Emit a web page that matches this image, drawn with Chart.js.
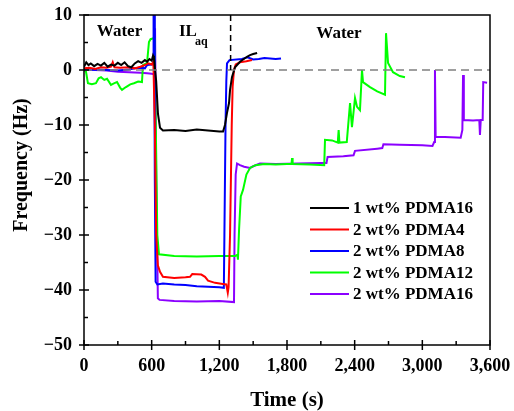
<!DOCTYPE html>
<html>
<head>
<meta charset="utf-8">
<script src="https://cdn.jsdelivr.net/npm/chart.js@4.4.1/dist/chart.umd.min.js"></script>
<style>
  html, body { margin: 0; padding: 0; background: #fff; }
  #wrap { width: 514px; height: 411px; position: relative; }
</style>
</head>
<body>
<div id="wrap"><canvas id="qcmChart"></canvas></div>
<script>
// Frequency traces (time in s, frequency in Hz)
const seriesLabels = ['1 wt% PDMA16', '2 wt% PDMA4', '2 wt% PDMA8', '2 wt% PDMA12', '2 wt% PDMA16'];
const seriesColors = ['#000000', '#ff0000', '#0000ff', '#00ff00', '#8b00ff'];

const blackTime = [0, 20, 40, 60, 90, 120, 150, 180, 210, 240, 270, 300, 330, 360, 390, 420, 450, 480, 510, 540, 560, 580, 600, 612, 620, 640, 656, 674, 700, 800, 900, 1000, 1100, 1200, 1233, 1250, 1268, 1286, 1295, 1312, 1339, 1383, 1445, 1472, 1500, 1535];
const blackFreq = [0.6, 1.4, 0.9, 1.2, 0.7, 1.1, 0.8, 1.3, 0.6, 1.0, 0.8, 1.3, 0.9, 1.4, 0.7, 0.5, 1.2, 1.6, 1.3, 1.8, 1.5, 2.0, 1.7, 2.6, 2.2, -2, -8, -10.5, -11.0, -10.9, -11.1, -10.8, -11.0, -11.2, -11.2, -10, -7.8, -6, -3.6, -1.3, 0.5, 1.5, 2.4, 2.7, 2.9, 3.1];

const redTime = [0, 50, 100, 150, 200, 240, 255, 270, 320, 400, 450, 500, 540, 570, 600, 615, 628, 640, 655, 674, 700, 800, 900, 940, 960, 1040, 1073, 1100, 1162, 1230, 1262, 1275, 1282, 1295, 1310, 1318, 1330, 1345, 1383, 1440, 1490];
const redFreq = [0.3, 0.4, 0.2, 0.5, 0.4, 0.6, 1.4, 0.5, 0.4, 0.5, 0.3, 0.6, 0.9, 1.2, 1.0, 1.5, -10, -30, -35.5, -36.7, -37.6, -37.8, -37.7, -37.6, -37.1, -37.2, -37.6, -38.3, -38.7, -38.9, -39.0, -40.5, -39.5, -30, -10, -3, 0, 1.0, 1.4, 1.6, 1.8];

const blueTime = [0, 100, 200, 300, 400, 450, 500, 540, 560, 600, 612, 617, 622, 628, 635, 650, 700, 800, 900, 1000, 1100, 1200, 1240, 1245, 1255, 1262, 1268, 1290, 1400, 1450, 1500, 1550, 1600, 1700, 1747];
const blueFreq = [0, 0.1, 0, -0.1, 0.1, 0.3, 0.4, 0.3, 0.9, 1.0, 1.2, 10, 10, -20, -38.5, -39.0, -38.8, -39.0, -39.1, -39.3, -39.4, -39.5, -39.6, -30, -10, -2, 1.2, 1.8, 2.0, 2.3, 1.9, 2.0, 2.2, 2.0, 2.1];

const greenTime = [0, 15, 35, 70, 106, 130, 151, 180, 204, 239, 270, 293, 320, 337, 372, 410, 443, 480, 514, 523, 559, 576, 590, 621, 628, 640, 650, 665, 800, 1000, 1200, 1340, 1360, 1365, 1375, 1390, 1410, 1440, 1472, 1520, 1600, 1700, 1800, 1840, 1845, 1850, 2000, 2130, 2137, 2200, 2250, 2258, 2265, 2330, 2359, 2376, 2403, 2421, 2447, 2465, 2474, 2536, 2600, 2669, 2678, 2696, 2740, 2800, 2846];
const greenFreq = [-0.2, 0, -2.4, -2.6, -2.4, -1.5, -1.3, -1.8, -1.6, -2.7, -2.4, -2.2, -3.2, -3.6, -3.1, -2.6, -2.4, -2.1, -2.2, 0.9, 1.3, 5.1, 5.6, 5.8, 2, -15, -30, -33.5, -33.8, -33.9, -33.8, -33.8, -33.6, -34.5, -29, -23, -21.8, -19, -17.8, -17.3, -17.1, -17.2, -17.1, -17.1, -16, -17.1, -17.2, -17.3, -12.7, -12.8, -13.2, -10.9, -13.2, -13.1, -6.0, -10.4, -5.1, -6.7, -7.3, 0, -2.2, -3.1, -3.9, -4.5, 6.7, 1.3, -0.4, -1.1, -1.3];

const purpleTime = [0, 100, 200, 300, 400, 500, 560, 600, 625, 630, 640, 655, 670, 800, 1000, 1200, 1330, 1335, 1345, 1357, 1383, 1420, 1472, 1500, 1560, 1700, 1900, 2100, 2150, 2160, 2300, 2390, 2403, 2600, 2645, 2655, 2800, 3000, 3090, 3105, 3112, 3118, 3200, 3340, 3355, 3361, 3368, 3450, 3505, 3511, 3518, 3535, 3540, 3574];
const purpleFreq = [0.2, 0, -0.1, -0.3, -0.4, -0.5, -0.6, -0.7, -0.8, 7.6, -20, -41.5, -41.8, -42, -42.1, -42, -42.2, -30, -19, -17, -17.3, -17.6, -17.8, -17.5, -17.0, -17.1, -17.0, -16.9, -16.9, -15.8, -15.7, -15.5, -14.7, -14.3, -14.2, -13.5, -13.6, -13.7, -13.8, -13.1, 0, -12.2, -12.2, -12.3, -10.9, -0.9, -9.1, -9.2, -9.1, -11.8, -9.1, -9.1, -2.2, -2.3];

const xTicks = [0, 600, 1200, 1800, 2400, 3000, 3600];
const yTicks = [-50, -40, -30, -20, -10, 0, 10];

const allTimes = [blackTime, redTime, blueTime, greenTime, purpleTime];
const allFreqs = [blackFreq, redFreq, blueFreq, greenFreq, purpleFreq];

function toPoints(t, f) {
  return t.map((x, i) => ({ x: x, y: f[i] }));
}

const serif = "'Liberation Serif', 'Times New Roman', serif";

// ticks, frame, dashed guides, text labels and legend
const decorPlugin = {
  id: 'decor',
  afterDraw(chart) {
    const ctx = chart.ctx;
    const a = chart.chartArea;
    const xs = chart.scales.x, ys = chart.scales.y;
    ctx.save();

    // dashed zero line
    ctx.strokeStyle = '#808080';
    ctx.lineWidth = 1.5;
    ctx.setLineDash([8, 5]);
    ctx.beginPath();
    ctx.moveTo(a.left, ys.getPixelForValue(0));
    ctx.lineTo(a.right, ys.getPixelForValue(0));
    ctx.stroke();

    // dashed switch marker
    ctx.strokeStyle = '#000';
    ctx.setLineDash([6, 4]);
    ctx.beginPath();
    ctx.moveTo(xs.getPixelForValue(1300), a.top);
    ctx.lineTo(xs.getPixelForValue(1300), ys.getPixelForValue(0));
    ctx.stroke();
    ctx.setLineDash([]);

    // frame
    ctx.strokeStyle = '#000';
    ctx.lineWidth = 1.5;
    ctx.strokeRect(a.left, a.top, a.right - a.left, a.bottom - a.top);

    // ticks
    for (let v = -50; v <= 10; v += 5) {
      const py = ys.getPixelForValue(v);
      ctx.beginPath();
      if (v % 10 === 0) { ctx.moveTo(a.left - 5, py); ctx.lineTo(a.left + 5, py); }
      else { ctx.moveTo(a.left, py); ctx.lineTo(a.left + 4, py); }
      ctx.stroke();
    }
    for (let t = 0; t <= 3600; t += 300) {
      const px = xs.getPixelForValue(t);
      ctx.beginPath();
      if (t % 600 === 0) { ctx.moveTo(px, a.bottom + 5); ctx.lineTo(px, a.bottom - 5); }
      else { ctx.moveTo(px, a.bottom); ctx.lineTo(px, a.bottom - 4); }
      ctx.stroke();
    }

    // region labels
    ctx.fillStyle = '#000';
    ctx.textBaseline = 'middle';
    ctx.textAlign = 'center';
    ctx.font = 'bold 17px ' + serif;
    ctx.fillText('Water', xs.getPixelForValue(315), ys.getPixelForValue(6.9));
    ctx.fillText('Water', xs.getPixelForValue(2261), ys.getPixelForValue(6.7));
    ctx.textAlign = 'left';
    ctx.fillText('IL', xs.getPixelForValue(842), ys.getPixelForValue(6.9));
    ctx.font = 'bold 12px ' + serif;
    ctx.fillText('aq', xs.getPixelForValue(842) + 16, ys.getPixelForValue(6.9) + 10);

    // y axis title
    ctx.save();
    ctx.translate(22, 165);
    ctx.rotate(-Math.PI / 2);
    ctx.textAlign = 'center';
    ctx.font = 'bold 20px ' + serif;
    ctx.fillText('Frequency (Hz)', 0, 0);
    ctx.restore();

    // legend
    ctx.font = 'bold 17px ' + serif;
    ctx.textAlign = 'left';
    chart.data.datasets.forEach((ds, i) => {
      const ly = 208 + i * 21.5;
      ctx.strokeStyle = ds.borderColor;
      ctx.lineWidth = 2;
      ctx.beginPath();
      ctx.moveTo(310, ly);
      ctx.lineTo(349, ly);
      ctx.stroke();
      ctx.fillText(ds.label, 353, ly + 1);
    });

    ctx.restore();
  }
};

const chart = new Chart(document.getElementById('qcmChart').getContext('2d'), {
  type: 'line',
  data: {
    datasets: seriesLabels.map((label, i) => ({
      label: label,
      data: toPoints(allTimes[i], allFreqs[i]),
      borderColor: seriesColors[i],
      backgroundColor: seriesColors[i],
      borderWidth: 2,
      pointRadius: 0,
      tension: 0,
      fill: false
    }))
  },
  options: {
    responsive: true,
    maintainAspectRatio: false,
    animation: false,
    layout: { padding: { top: 15, right: 24, left: 0, bottom: 0 } },
    plugins: {
      legend: { display: false },
      tooltip: { enabled: false }
    },
    scales: {
      x: {
        type: 'linear',
        min: 0,
        max: 3600,
        afterFit: (s) => { s.height = 66; s.paddingLeft = 0; s.paddingRight = 0; },
        afterBuildTicks: (s) => { s.ticks = xTicks.map(v => ({ value: v })); },
        grid: { display: false },
        border: { display: false },
        ticks: {
          padding: 3,
          color: '#000',
          maxRotation: 0,
          font: { family: serif, size: 18, weight: 'bold' },
          callback: (v) => v.toLocaleString('en-US')
        },
        title: {
          display: true,
          text: 'Time (s)',
          color: '#000',
          padding: { top: 0, bottom: 0 },
          font: { family: serif, size: 21, weight: 'bold', lineHeight: 1 }
        }
      },
      y: {
        min: -50,
        max: 10,
        afterFit: (s) => { s.width = 84; s.paddingTop = 0; s.paddingBottom = 0; },
        afterBuildTicks: (s) => { s.ticks = yTicks.map(v => ({ value: v })); },
        grid: { display: false },
        border: { display: false },
        ticks: {
          padding: 4,
          color: '#000',
          font: { family: serif, size: 18, weight: 'bold' },
          callback: (v) => String(v).replace('-', '\u2212')
        }
      }
    }
  },
  plugins: [decorPlugin]
});
</script>
</body>
</html>
